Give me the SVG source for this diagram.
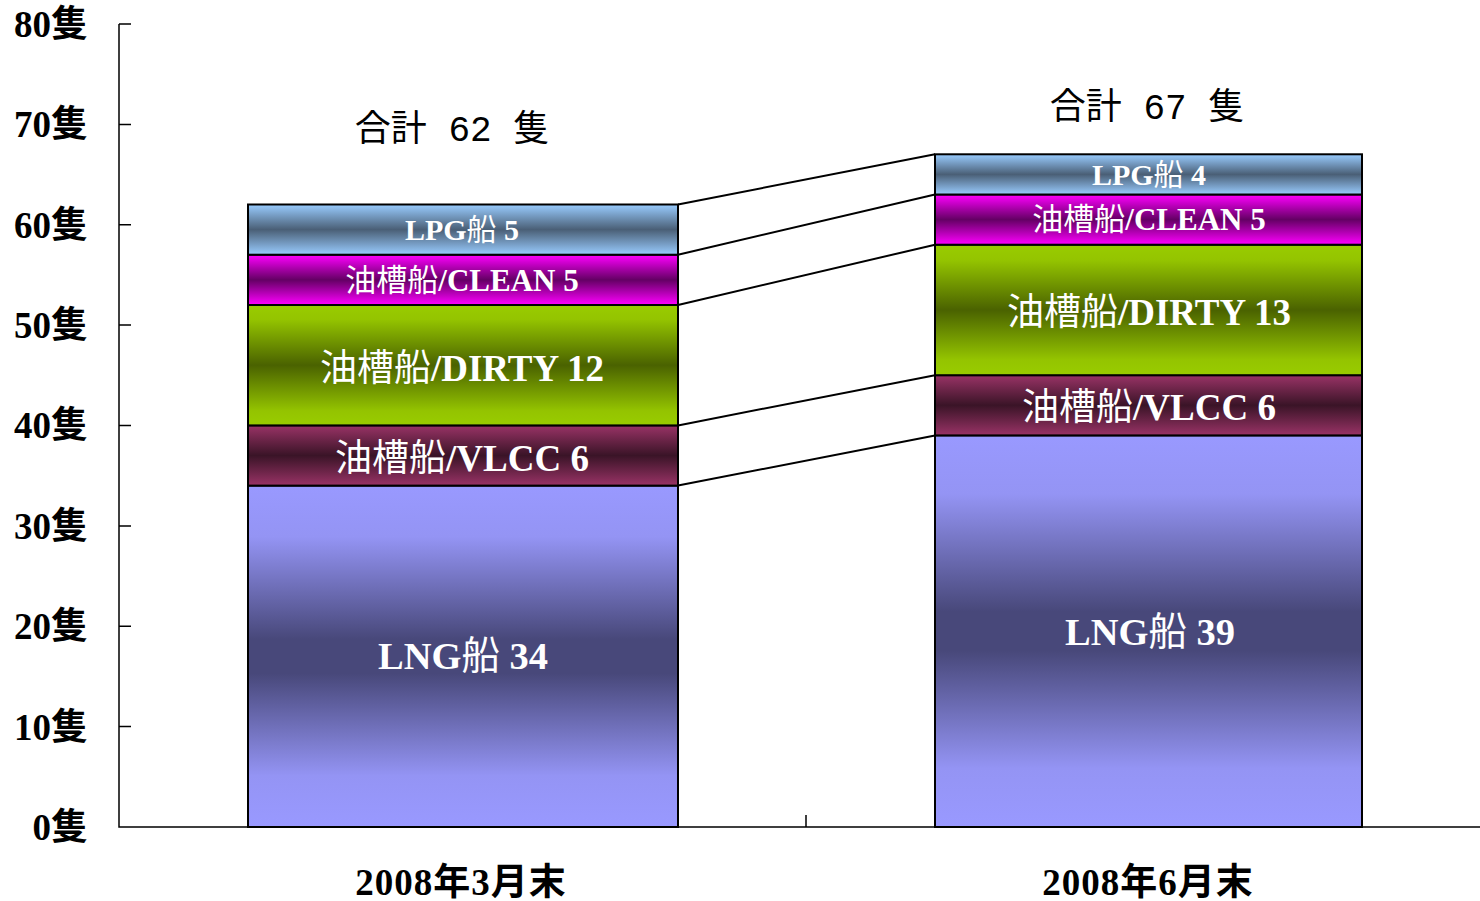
<svg xmlns="http://www.w3.org/2000/svg" width="1480" height="901" viewBox="0 0 1480 901">
<defs>
<linearGradient id="gLNG" x1="0" y1="0" x2="0" y2="1"><stop offset="0" stop-color="#9999ff"/><stop offset="0.15" stop-color="#9494f4"/><stop offset="0.45" stop-color="#48487a"/><stop offset="0.55" stop-color="#48487a"/><stop offset="0.85" stop-color="#9494f4"/><stop offset="1" stop-color="#9999ff"/></linearGradient>
<linearGradient id="gVLCC" x1="0" y1="0" x2="0" y2="1"><stop offset="0" stop-color="#993366"/><stop offset="0.5" stop-color="#3a1427"/><stop offset="1" stop-color="#993366"/></linearGradient>
<linearGradient id="gDIRTY" x1="0" y1="0" x2="0" y2="1"><stop offset="0" stop-color="#99cc00"/><stop offset="0.12" stop-color="#94c400"/><stop offset="0.5" stop-color="#4a6200"/><stop offset="0.88" stop-color="#94c400"/><stop offset="1" stop-color="#99cc00"/></linearGradient>
<linearGradient id="gCLEAN" x1="0" y1="0" x2="0" y2="1"><stop offset="0" stop-color="#ff00ff"/><stop offset="0.5" stop-color="#640064"/><stop offset="1" stop-color="#ff00ff"/></linearGradient>
<linearGradient id="gLPG" x1="0" y1="0" x2="0" y2="1"><stop offset="0" stop-color="#99ccff"/><stop offset="0.5" stop-color="#4a5f76"/><stop offset="1" stop-color="#99ccff"/></linearGradient>
</defs>
<style>
.seg{stroke:#000;stroke-width:2}
.lbl{font-family:'Liberation Serif','Noto Sans CJK JP',serif;font-weight:bold;fill:#fff;text-anchor:middle}
.cj{font-weight:normal}
.ax{font-family:'Liberation Serif','Noto Sans CJK JP',serif;font-weight:bold;fill:#000;font-size:37px}
.yl{text-anchor:end}
.tot{font-family:'Liberation Mono','Noto Sans CJK JP',monospace;font-size:36px;fill:#000;text-anchor:middle}
.axis{stroke:#000;stroke-width:1.5;fill:none}
.conn{stroke:#000;stroke-width:2;fill:none}
</style>
<rect width="1480" height="901" fill="#fff"/>
<g id="axes">
<path class="axis" d="M119 24V827H1480M119 24H131M119 124.4H131M119 224.8H131M119 325.1H131M119 425.5H131M119 525.9H131M119 626.3H131M119 726.6H131M806 815V827"/>
<text class="ax yl" x="88" y="37">80隻</text>
<text class="ax yl" x="88" y="137">70隻</text>
<text class="ax yl" x="88" y="238">60隻</text>
<text class="ax yl" x="88" y="338">50隻</text>
<text class="ax yl" x="88" y="438">40隻</text>
<text class="ax yl" x="88" y="539">30隻</text>
<text class="ax yl" x="88" y="639">20隻</text>
<text class="ax yl" x="88" y="740">10隻</text>
<text class="ax yl" x="88" y="840">0隻</text>
<text class="ax" x="461" y="895" text-anchor="middle" letter-spacing="1">2008年3月末</text>
<text class="ax" x="1148" y="895" text-anchor="middle" letter-spacing="1">2008年6月末</text>
</g>
<g id="connectors">
<line class="conn" x1="678" y1="204.5" x2="935" y2="154.3"/>
<line class="conn" x1="678" y1="254.7" x2="935" y2="194.5"/>
<line class="conn" x1="678" y1="305" x2="935" y2="244.7"/>
<line class="conn" x1="678" y1="425.4" x2="935" y2="375.2"/>
<line class="conn" x1="678" y1="485.6" x2="935" y2="435.4"/>
</g>
<g id="bar1">
<g id="b1-lng"><rect class="seg" x="248" y="485.6" width="430" height="341.4" fill="url(#gLNG)"/><text class="lbl" x="463" y="669" font-size="38.5">LNG<tspan class="cj">船</tspan> 34</text></g>
<g id="b1-vlcc"><rect class="seg" x="248" y="425.4" width="430" height="60.2" fill="url(#gVLCC)"/><text class="lbl" x="462" y="471" font-size="37"><tspan class="cj">油槽船</tspan>/VLCC 6</text></g>
<g id="b1-dirty"><rect class="seg" x="248" y="305" width="430" height="120.4" fill="url(#gDIRTY)"/><text class="lbl" x="462" y="381" font-size="37"><tspan class="cj">油槽船</tspan>/DIRTY 12</text></g>
<g id="b1-clean"><rect class="seg" x="248" y="254.7" width="430" height="50.3" fill="url(#gCLEAN)"/><text class="lbl" x="462" y="291" font-size="31"><tspan class="cj">油槽船</tspan>/CLEAN 5</text></g>
<g id="b1-lpg"><rect class="seg" x="248" y="204.5" width="430" height="50.2" fill="url(#gLPG)"/><text class="lbl" x="462" y="240" font-size="30">LPG<tspan class="cj">船</tspan> 5</text></g>
<text class="tot" x="452" y="141" xml:space="preserve">合計 62 隻</text>
</g>
<g id="bar2">
<g id="b2-lng"><rect class="seg" x="935" y="435.4" width="427" height="391.6" fill="url(#gLNG)"/><text class="lbl" x="1150" y="645" font-size="38.5">LNG<tspan class="cj">船</tspan> 39</text></g>
<g id="b2-vlcc"><rect class="seg" x="935" y="375.2" width="427" height="60.2" fill="url(#gVLCC)"/><text class="lbl" x="1149" y="420" font-size="37"><tspan class="cj">油槽船</tspan>/VLCC 6</text></g>
<g id="b2-dirty"><rect class="seg" x="935" y="244.7" width="427" height="130.5" fill="url(#gDIRTY)"/><text class="lbl" x="1149" y="325" font-size="37"><tspan class="cj">油槽船</tspan>/DIRTY 13</text></g>
<g id="b2-clean"><rect class="seg" x="935" y="194.5" width="427" height="50.2" fill="url(#gCLEAN)"/><text class="lbl" x="1149" y="230" font-size="31"><tspan class="cj">油槽船</tspan>/CLEAN 5</text></g>
<g id="b2-lpg"><rect class="seg" x="935" y="154.3" width="427" height="40.2" fill="url(#gLPG)"/><text class="lbl" x="1149" y="185" font-size="30">LPG<tspan class="cj">船</tspan> 4</text></g>
<text class="tot" x="1147" y="119" xml:space="preserve">合計 67 隻</text>
</g>
</svg>
